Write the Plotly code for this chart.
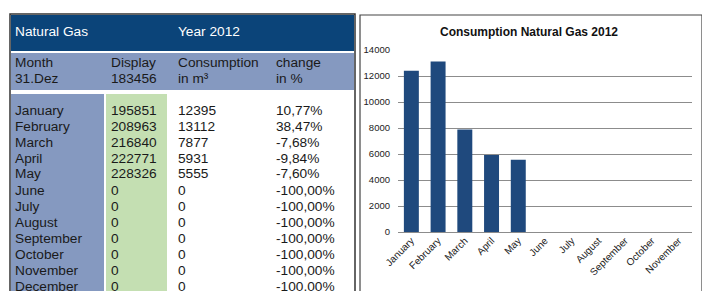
import plotly.graph_objects as go

# ---------------- data ----------------
months = ["January", "February", "March", "April", "May", "June", "July",
          "August", "September", "October", "November", "December"]
display_vals = ["195851", "208963", "216840", "222771", "228326", "0", "0", "0", "0", "0", "0", "0"]
consumption = [12395, 13112, 7877, 5931, 5555, 0, 0, 0, 0, 0, 0, 0]
change_pct = ["10,77%", "38,47%", "-7,68%", "-9,84%", "-7,60%", "-100,00%", "-100,00%",
              "-100,00%", "-100,00%", "-100,00%", "-100,00%", "-100,00%"]
chart_months = months[:11]
chart_values = consumption[:11]
header_title = "Natural Gas"
header_year = "Year 2012"
col_heads = [("Month", "31.Dez"), ("Display", "183456"), ("Consumption", "in m³"), ("change", "in %")]
chart_title = "Consumption Natural Gas 2012"
y_ticks = [0, 2000, 4000, 6000, 8000, 10000, 12000, 14000]
y_ticktext = ["0", "2000", "4000", "6000", "8000", "10000", "12000", "14000"]

# the page places the figure 8px from the top-left corner of the window
OFF = 8
W, H = 710 - OFF, 291 - OFF
def px(x):
    return (x - OFF) / W
def py(y):
    return 1 - (y - OFF) / H

DARK = "#0b4479"
BLUEGRAY = "#8599c0"
GREEN = "#c4dfb2"
BAR = "#1f497d"
FONT = "Liberation Sans"

fig = go.Figure()
fig.add_trace(go.Bar(x=chart_months, y=chart_values, marker=dict(color=BAR, line=dict(width=0)),
                     showlegend=False, hoverinfo="skip"))

shapes = []
def rect(x0, y0, x1, y1, fill):
    shapes.append(dict(type="rect", xref="paper", yref="paper",
                       x0=px(x0), x1=px(x1), y0=py(y1), y1=py(y0),
                       fillcolor=fill, line=dict(width=0), layer="below"))

# table backgrounds
rect(11, 15, 354, 51, DARK)
rect(11, 53, 354, 90, BLUEGRAY)
rect(11, 94, 104, 300, BLUEGRAY)
rect(106, 94, 167, 300, GREEN)
# table outer border
shapes.append(dict(type="rect", xref="paper", yref="paper", x0=px(10), x1=px(355), y0=py(310), y1=py(14),
                   line=dict(color="#333333", width=1.5), fillcolor="rgba(0,0,0,0)"))
# chart box border
shapes.append(dict(type="rect", xref="paper", yref="paper", x0=px(360), x1=px(702), y0=py(310), y1=py(15),
                   line=dict(color="#444444", width=1.2), fillcolor="rgba(0,0,0,0)"))
shapes.append(dict(type="line", xref="paper", yref="paper", x0=px(703), x1=px(703), y0=py(310), y1=py(15),
                   line=dict(color="#111111", width=1.5)))

ann = []
def text(x, y, s, color="#1a1a1a", size=13.7, bold=False, anchor="left"):
    ann.append(dict(xref="paper", yref="paper", x=px(x), y=py(y), text=("<b>%s</b>" % s) if bold else s,
                    showarrow=False, xanchor=anchor, yanchor="middle",
                    font=dict(family=FONT, size=size, color=color)))

text(13, 31, header_title, color="white")
text(176, 31, header_year, color="white")
col_x = [13, 109, 176, 274]
for cx, (a, b) in zip(col_x, col_heads):
    text(cx, 62, a)
    text(cx, 78, b)
for i, m in enumerate(months):
    y = 110 + 16 * i
    text(col_x[0], y, m)
    text(col_x[1], y, display_vals[i])
    text(col_x[2], y, str(consumption[i]))
    text(col_x[3], y, change_pct[i])

text(529, 32, chart_title, color="#111111", size=12, bold=True, anchor="center")

fig.update_layout(
    width=W, height=H, margin=dict(l=0, r=0, t=0, b=0, pad=0, autoexpand=False),
    paper_bgcolor="white", plot_bgcolor="white",
    shapes=shapes, annotations=ann, bargap=0.44,
    font=dict(family=FONT, color="#222222"),
    xaxis=dict(domain=[px(398), px(692)], tickangle=-45, tickfont=dict(size=10, color="#222222"),
               showgrid=False, showline=False, ticks="", fixedrange=True, automargin=False),
    yaxis=dict(domain=[py(232), py(50)], range=[0, 14000], tickvals=y_ticks, ticktext=y_ticktext,
               tickfont=dict(size=9.5, color="#222222"), showgrid=True, gridcolor="#8c8c8c", gridwidth=1,
               zeroline=True, zerolinecolor="#8c8c8c", zerolinewidth=1, showline=False,
               ticks="", ticklabelstandoff=7, fixedrange=True, automargin=False),
)
fig.write_html("out.html")
